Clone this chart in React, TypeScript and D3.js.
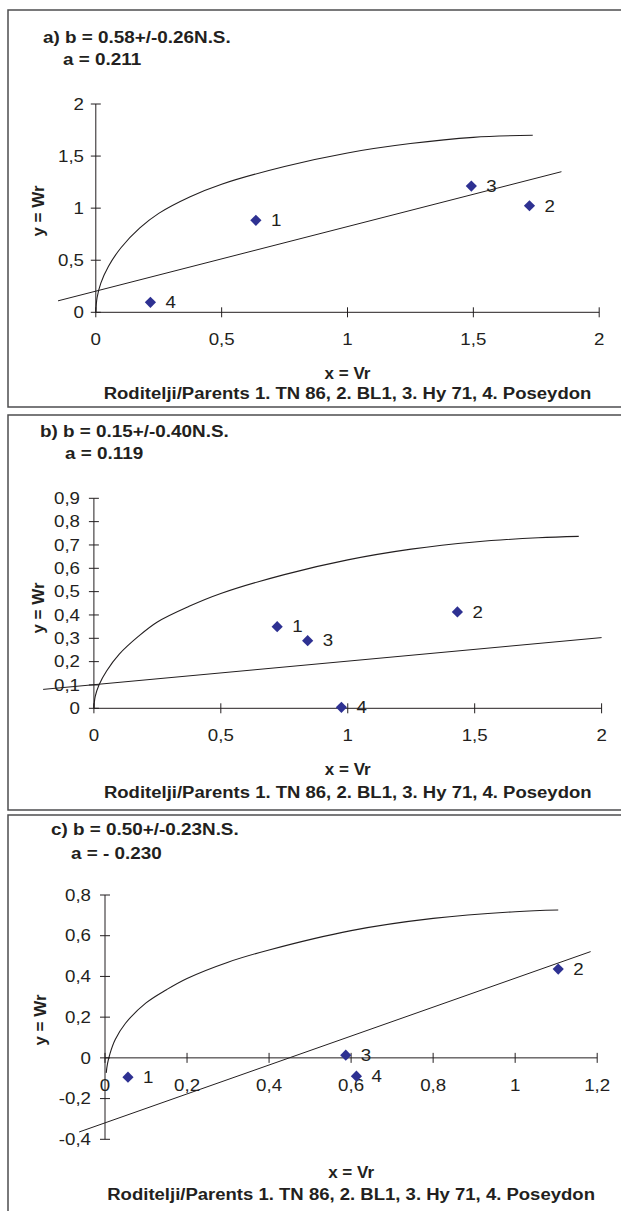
import React from 'react'
import * as d3 from 'd3'

// values
const pointLabels = ['1', '2', '3', '4'];
const parentsText = 'Roditelji/Parents 1. TN 86, 2. BL1, 3. Hy 71, 4. Poseydon';

const titlesA = ['a) b = 0.58+/-0.26N.S.', 'a = 0.211'];
const vrA = [0.636, 1.723, 1.492, 0.217];
const wrA = [0.883, 1.023, 1.212, 0.096];
const regXA = [-0.15, 1.85];
const regYA = [0.11, 1.35];
const curveXA = [0, 0.005, 0.02, 0.05, 0.1, 0.175, 0.25, 0.375, 0.5, 0.75, 1.0, 1.25, 1.5, 1.736];
const curveYA = [0, 0.14, 0.28, 0.44, 0.62, 0.81, 0.95, 1.11, 1.23, 1.4, 1.53, 1.62, 1.68, 1.7];
const xTicksA = [0, 0.5, 1, 1.5, 2];
const yTicksA = [0, 0.5, 1, 1.5, 2];

const titlesB = ['b) b = 0.15+/-0.40N.S.', 'a = 0.119'];
const vrB = [0.722, 1.432, 0.842, 0.975];
const wrB = [0.35, 0.413, 0.29, 0.004];
const regXB = [-0.2, 2.0];
const regYB = [0.081, 0.303];
const curveXB = [0, 0.005, 0.02, 0.05, 0.1, 0.175, 0.25, 0.375, 0.5, 0.75, 1.0, 1.25, 1.5, 1.75, 1.91];
const curveYB = [0, 0.05, 0.1, 0.16, 0.232, 0.308, 0.37, 0.437, 0.492, 0.573, 0.636, 0.682, 0.713, 0.731, 0.737];
const xTicksB = [0, 0.5, 1, 1.5, 2];
const yTicksB = [0, 0.1, 0.2, 0.3, 0.4, 0.5, 0.6, 0.7, 0.8, 0.9];

const titlesC = ['c) b = 0.50+/-0.23N.S.', 'a = - 0.230'];
const vrC = [0.056, 1.105, 0.587, 0.613];
const wrC = [-0.095, 0.436, 0.013, -0.09];
const regXC = [-0.063, 1.184];
const regYC = [-0.364, 0.522];
const curveXC = [0.003, 0.006, 0.012, 0.025, 0.05, 0.1, 0.15, 0.2, 0.3, 0.4, 0.6, 0.8, 1.0, 1.105];
const curveYC = [-0.074, -0.03, 0.02, 0.09, 0.17, 0.27, 0.335, 0.39, 0.47, 0.53, 0.625, 0.685, 0.718, 0.726];
const xTicksC = [0, 0.2, 0.4, 0.6, 0.8, 1, 1.2];
const yTicksC = [-0.4, -0.2, 0, 0.2, 0.4, 0.6, 0.8];

const ink = '#231f20';
const markerColor = '#2e3192';
const font = '"Liberation Sans", Arial, Helvetica, sans-serif';

const locale = d3.formatLocale({ decimal: ',', thousands: '.', grouping: [3], currency: ['', ''], minus: '-' });
const fmt = locale.format('~g');

const panels = [
  {
    top: 10, bottom: 407, titles: titlesA, title: [43, 43], sub: [63, 65],
    xRange: [95.8, 599.2], yRange: [312.3, 104], xDomain: [0, 2], yDomain: [0, 2],
    yLabel: [38, 211], yTickRight: 84, xLabelY: 379, parentsY: 399,
    vr: vrA, wr: wrA, regX: regXA, regY: regYA, cx: curveXA, cy: curveYA, xTicks: xTicksA, yTicks: yTicksA,
  },
  {
    top: 415, bottom: 810, titles: titlesB, title: [40, 437], sub: [65, 459],
    xRange: [93.9, 601.6], yRange: [708.3, 498.3], xDomain: [0, 2], yDomain: [0, 0.9],
    yLabel: [38, 608], yTickRight: 80, xLabelY: 775, parentsY: 798,
    vr: vrB, wr: wrB, regX: regXB, regY: regYB, cx: curveXB, cy: curveYB, xTicks: xTicksB, yTicks: yTicksB,
  },
  {
    top: 815, bottom: 1220, titles: titlesC, title: [51, 835], sub: [71, 859],
    xRange: [105, 597.2], yRange: [1139.3, 895], xDomain: [0, 1.2], yDomain: [-0.4, 0.8],
    yLabel: [40, 1020], yTickRight: 91, xLabelY: 1178, parentsY: 1200,
    vr: vrC, wr: wrC, regX: regXC, regY: regYC, cx: curveXC, cy: curveYC, xTicks: xTicksC, yTicks: yTicksC,
  },
];

const Label = ({ x, y, sx = 1, size = 16, bold = false, anchor = 'start', rotate = false, dy = '0', children }) => (
  <text
    transform={`translate(${x},${y})${rotate ? ' rotate(-90)' : ''} scale(${sx},1)`}
    textAnchor={anchor}
    dy={dy}
    fontSize={size}
    fontWeight={bold ? 'bold' : 'normal'}
    fill={ink}
  >
    {children}
  </text>
);

const Panel = ({ p }) => {
  const x = d3.scaleLinear().domain(p.xDomain).range(p.xRange);
  const y = d3.scaleLinear().domain(p.yDomain).range(p.yRange);
  const x0 = x(0);
  const y0 = y(0);
  const curve = d3.line<number>()
    .x((d, i) => x(p.cx[i]))
    .y((d, i) => y(p.cy[i]))
    .curve(d3.curveCatmullRom.alpha(0.5));
  const diamond = d3.symbol().type(d3.symbolDiamond2).size(80)();
  const midX = (p.xRange[0] + p.xRange[1]) / 2;

  return (
    <g>
      <rect x={8} y={p.top} width={640} height={p.bottom - p.top} fill="none" stroke="#4d4d4f" strokeWidth={1.5} />

      <Label x={p.title[0]} y={p.title[1]} sx={1.18} bold>{p.titles[0]}</Label>
      <Label x={p.sub[0]} y={p.sub[1]} sx={1.18} bold>{p.titles[1]}</Label>

      {/* axes with crossing ticks */}
      <line x1={x0} x2={x0} y1={y(p.yDomain[0])} y2={y(p.yDomain[1])} stroke={ink} strokeWidth={1} />
      <line x1={x(p.xDomain[0])} x2={x(p.xDomain[1])} y1={y0} y2={y0} stroke={ink} strokeWidth={1} />
      {p.yTicks.map(t => (
        <g key={'y' + t}>
          <line x1={x0 - 5} x2={x0 + 5} y1={y(t)} y2={y(t)} stroke={ink} />
          <Label x={p.yTickRight} y={y(t)} dy="0.36em" sx={1.17} anchor="end">{fmt(t)}</Label>
        </g>
      ))}
      {p.xTicks.map(t => (
        <g key={'x' + t}>
          <line x1={x(t)} x2={x(t)} y1={y0 - 5} y2={y0 + 5} stroke={ink} />
          <Label x={x(t)} y={y0 + 27} dy="0.36em" sx={1.17} anchor="middle">{fmt(t)}</Label>
        </g>
      ))}

      {/* regression line and limiting curve */}
      <line x1={x(p.regX[0])} y1={y(p.regY[0])} x2={x(p.regX[1])} y2={y(p.regY[1])} stroke={ink} strokeWidth={1} />
      <path d={curve(p.cx)} fill="none" stroke={ink} strokeWidth={1.1} />

      {p.vr.map((v, i) => (
        <g key={i}>
          <path d={diamond} transform={`translate(${x(v)},${y(p.wr[i])})`} fill={markerColor} />
          <Label x={x(v) + 15} y={y(p.wr[i])} dy="0.36em" sx={1.17}>{pointLabels[i]}</Label>
        </g>
      ))}

      <Label x={p.yLabel[0]} y={p.yLabel[1]} rotate anchor="middle" dy="0.36em" size={17} bold>y = Wr</Label>
      <Label x={midX} y={p.xLabelY} anchor="middle" size={17} bold>x = Vr</Label>
      <Label x={midX} y={p.parentsY} anchor="middle" size={17} sx={1.09} bold>{parentsText}</Label>
    </g>
  );
};

const App = () => (
  <svg
    width={621}
    height={1211}
    style={{ position: 'absolute', left: 0, top: 0, background: '#fff', fontFamily: font }}
  >
    {panels.map((p, i) => <Panel key={i} p={p} />)}
  </svg>
);

export default App
